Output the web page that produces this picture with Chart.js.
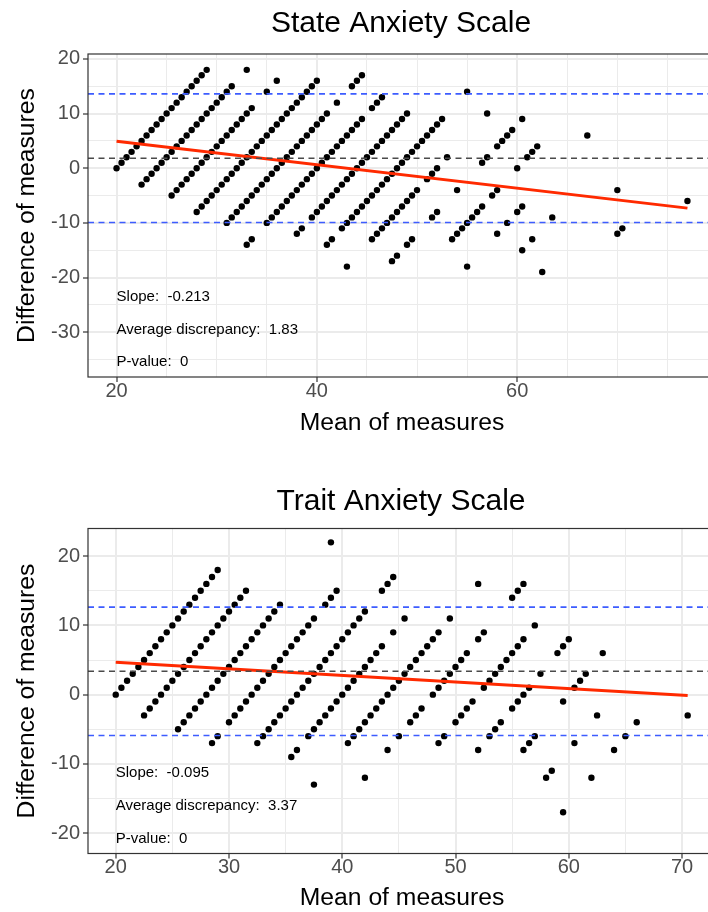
<!DOCTYPE html>
<html><head><meta charset="utf-8">
<script src="https://cdn.jsdelivr.net/npm/chart.js@4.4.1/dist/chart.umd.min.js"></script>
<style>
html,body{margin:0;padding:0;background:#fff;width:708px;height:912px;overflow:hidden;}
#wrap{position:relative;width:708px;height:912px;overflow:hidden;background:#fff;}
canvas{position:absolute;left:0;}
#c1{top:0;width:720px;height:440px;}
#c2{top:440px;width:720px;height:490px;}
</style></head><body>
<div id="wrap"><canvas id="c1" width="720" height="440"></canvas><canvas id="c2" width="720" height="490"></canvas></div>
<script>
// ---------- DATA ----------
// State Anxiety Scale: one entry per short-form score; differences (full - short) observed for it
const stateShortForm = [20,24,28,32,36,40,44,48,52,56,60,64,68,72,76,80];
const stateDifference = [
  [0,1,2,3,4,5,6,7,8,9,10,11,12,13,14,15,16,17,18],
  [-3,-2,-1,0,1,2,3,4,5,6,7,8,9,10,11,12,13,14,15,18],
  [-5,-4,-3,-2,-1,0,1,2,3,4,5,6,7,8,9,10,11,14,16],
  [-8,-7,-6,-5,-4,-3,-2,-1,0,1,2,3,4,5,6,7,8,9,10,11,12,13,14,15,16],
  [-10,-9,-8,-7,-6,-5,-4,-3,-2,-1,0,1,2,3,4,5,6,7,8,9,10,12,15,16,17],
  [-14,-13,-10,-9,-8,-7,-6,-5,-4,-3,-2,-1,0,1,2,3,4,5,6,7,8,9,11,12,13],
  [-12,-11,-9,-8,-7,-6,-5,-4,-3,-2,-1,0,1,2,3,4,5,6,7,8,9,10],
  [-14,-13,-11,-10,-9,-8,-7,-6,-5,-4,-3,-2,-1,0,1,2,3,4,5,6,7,8,9,14],
  [-18,-13,-12,-11,-10,-9,-8,-7,-6,-5,-4,-2,-1,0,2,10],
  [-17,-16,-14,-13,-9,-8,-4,1,2,4,5,6,7,9],
  [-13,-12,-11,-10,-9,-8,-7,-5,-4,0,2,3,4],
  [-18,-12,-10,-8,-7,6],
  [-15,-13,-9],
  [-19,-4],
  [-12,-11],
  [-6]
];
const stateFitX = [20, 77];
const stateFitY = [4.95, -7.3];
const stateMeanDiff = 1.83;
const stateLimits = [13.6, -9.94];
const stateStats = ['Slope:  -0.213', 'Average discrepancy:  1.83', 'P-value:  0'];

// Trait Anxiety Scale
const traitShortForm = [20,24,28,32,36,40,44,48,52,56,60,64,68,72];
const traitDifference = [
  [0,1,2,3,4,5,6,7,8,9,10,11,12,13,14,15,16,17,18],
  [-3,-2,-1,0,1,2,3,4,5,6,7,8,9,10,11,12,13,14,15],
  [-5,-4,-3,-2,-1,0,1,2,3,4,5,6,7,8,9,10,11,12,13,22],
  [-7,-6,-4,-3,-2,-1,0,1,2,3,4,5,6,7,8,9,10,11,13,14,15],
  [-7,-6,-5,-4,-3,-2,-1,0,1,2,3,4,5,6,7,8,9,10,11,12,15,16,17],
  [-9,-8,-6,-5,-4,-3,-2,-1,0,1,2,3,4,5,6,7,9,11],
  [-13,-7,-6,-5,-4,-3,-2,-1,0,1,2,3,4,5,6,7,8,9,11,16],
  [-12,-8,-6,-4,-3,-2,0,1,2,3,4,5,6,8,9,14,15,16],
  [-7,-6,-4,-3,-2,-1,1,2,3,4,5,6,7,8,10],
  [-8,-6,-5,-4,-2,-1,0,1,3,6,7,8],
  [-8,-7,-6,-1,1,2,3,6],
  [-12,-11,-7,-3],
  [-17,-12,-8,-6,-4],
  [-3]
];
const traitFitX = [20, 70.5];
const traitFitY = [4.68, -0.14];
const traitMeanDiff = 3.37;
const traitLimits = [12.64, -5.9];
const traitStats = ['Slope:  -0.095', 'Average discrepancy:  3.37', 'P-value:  0'];

// axis ticks
const stateXTicks = [20,25,30,35,40,45,50,55,60,65,70,75];
const stateXLabels = [20,40,60];
const stateYTicks = [-35,-30,-25,-20,-15,-10,-5,0,5,10,15,20];
const stateYLabels = [-30,-20,-10,0,10,20];
const traitXTicks = [20,25,30,35,40,45,50,55,60,65,70];
const traitXLabels = [20,30,40,50,60,70];
const traitYTicks = [-20,-15,-10,-5,0,5,10,15,20];
const traitYLabels = [-20,-10,0,10,20];

// ---------- RENDER ----------
const FAM = "'Liberation Sans', Arial, Helvetica, sans-serif";

function blandAltmanPoints(shortForm, diffs) {
  const pts = [];
  shortForm.forEach((s, i) => {
    diffs[i].forEach(d => {
      const full = s + d;             // the other measure
      pts.push({x: (full + s) / 2, y: d});
    });
  });
  return pts;
}

const decor = {
  id: 'decor',
  afterDatasetsDraw(chart, args, o) {
    const {ctx, chartArea: ca, scales: {x, y}} = chart;
    ctx.save();
    ctx.beginPath(); ctx.rect(ca.left, ca.top, ca.right - ca.left, ca.bottom - ca.top); ctx.clip();
    ctx.lineWidth = 1.6;
    ctx.setLineDash([6, 4.5]);
    const hl = (v, col) => {
      const py = y.getPixelForValue(v);
      ctx.strokeStyle = col;
      ctx.beginPath(); ctx.moveTo(ca.left, py); ctx.lineTo(ca.right, py); ctx.stroke();
    };
    hl(o.mean, '#4a4a4a');
    o.limits.forEach(v => hl(v, '#3d5cff'));
    ctx.restore();
    // annotations
    ctx.save();
    ctx.fillStyle = '#000';
    ctx.font = '15px ' + FAM;
    ctx.textAlign = 'left';
    ctx.textBaseline = 'middle';
    o.stats.forEach((t, i) => {
      ctx.fillText(t, x.getPixelForValue(o.statsX), y.getPixelForValue(o.statsY[i]));
    });
    ctx.restore();
  },
  afterDraw(chart, args, o) {
    const {ctx, chartArea: ca} = chart;
    ctx.save();
    ctx.strokeStyle = '#333333';
    ctx.lineWidth = 1.2;
    ctx.strokeRect(ca.left, ca.top, ca.right - ca.left, ca.bottom - ca.top);
    ctx.fillStyle = '#000';
    ctx.font = '30px ' + FAM;
    ctx.textAlign = 'center';
    ctx.textBaseline = 'alphabetic';
    ctx.fillText(o.title, (ca.left + ca.right) / 2 - 1, o.titleBaseline);
    ctx.restore();
  }
};

function makeChart(id, c) {
  const gridLW = labels => ctx => (ctx.tick && labels.includes(ctx.tick.value)) ? 2 : 1;
  const tickCol = labels => ctx => (ctx.tick && labels.includes(ctx.tick.value)) ? '#333333' : 'rgba(0,0,0,0)';
  return new Chart(document.getElementById(id), {
    type: 'scatter',
    data: {
      datasets: [
        {
          data: c.fitX.map((v, i) => ({x: v, y: c.fitY[i]})),
          showLine: true, borderColor: '#ff2a00', borderWidth: 3, pointRadius: 0, fill: false
        },
        {
          data: blandAltmanPoints(c.shortForm, c.diffs),
          pointRadius: 3.2, pointBackgroundColor: '#000', pointBorderWidth: 0, borderWidth: 0
        }
      ]
    },
    options: {
      responsive: false, animation: false, devicePixelRatio: 1,
      layout: {padding: {top: c.top, left: 0, right: 0, bottom: 0}},
      plugins: {
        legend: {display: false}, tooltip: {enabled: false}, title: {display: false},
        decor: {mean: c.mean, limits: c.limits, stats: c.stats, statsX: 20, statsY: c.statsY,
                title: c.title, titleBaseline: c.titleBaseline}
      },
      scales: {
        x: {
          type: 'linear', position: 'bottom', min: c.xMin, max: c.xMax,
          afterBuildTicks: s => { s.ticks = c.xTicks.map(v => ({value: v})); },
          afterFit: s => { s.height = c.xAxisH; },
          ticks: {autoSkip: false, maxRotation: 0, minRotation: 0, padding: -1, color: '#4D4D4D',
                  font: {family: FAM, size: 20, lineHeight: 1},
                  callback: v => c.xLabels.includes(v) ? String(v) : ''},
          grid: {color: '#EBEBEB', lineWidth: gridLW(c.xLabels), drawTicks: true, tickLength: 5,
                 tickColor: tickCol(c.xLabels), tickWidth: 1.2},
          border: {display: false},
          title: {display: true, text: 'Mean of measures', color: '#000',
                  font: {family: FAM, size: 24.7, lineHeight: 1.2}, padding: {top: 0, bottom: c.xTitlePad}}
        },
        y: {
          type: 'linear', position: 'left', min: c.yMin, max: c.yMax,
          afterBuildTicks: s => { s.ticks = c.yTicks.map(v => ({value: v})); },
          afterFit: s => { s.width = 88; },
          ticks: {autoSkip: false, padding: 3, color: '#4D4D4D',
                  font: {family: FAM, size: 20, lineHeight: 1},
                  callback: v => c.yLabels.includes(v) ? String(v) : ''},
          grid: {color: '#EBEBEB', lineWidth: gridLW(c.yLabels), drawTicks: true, tickLength: 5,
                 tickColor: tickCol(c.yLabels), tickWidth: 1.2},
          border: {display: false},
          title: {display: true, text: 'Difference of measures', color: '#000',
                  font: {family: FAM, size: 24.7, lineHeight: 1.2}, padding: {top: 12, bottom: 0}}
        }
      }
    },
    plugins: [decor]
  });
}

makeChart('c1', {
  shortForm: stateShortForm, diffs: stateDifference, fitX: stateFitX, fitY: stateFitY,
  mean: stateMeanDiff, limits: stateLimits, stats: stateStats, statsY: [-23.6, -29.5, -35.5],
  title: 'State Anxiety Scale', titleBaseline: 32,
  xMin: 17.15, xMax: 79.85, xTicks: stateXTicks, xLabels: stateXLabels,
  yMin: -38.2, yMax: 20.9, yTicks: stateYTicks, yLabels: stateYLabels,
  top: 54, xAxisH: 63, xTitlePad: 2
});

makeChart('c2', {
  shortForm: traitShortForm, diffs: traitDifference, fitX: traitFitX, fitY: traitFitY,
  mean: traitMeanDiff, limits: traitLimits, stats: traitStats, statsY: [-11.3, -16.1, -20.8],
  title: 'Trait Anxiety Scale', titleBaseline: 70,
  xMin: 17.55, xMax: 73.0, xTicks: traitXTicks, xLabels: traitXLabels,
  yMin: -22.95, yMax: 24.0, yTicks: traitYTicks, yLabels: traitYLabels,
  top: 88.5, xAxisH: 76.5, xTitlePad: 17
});
</script></body></html>
